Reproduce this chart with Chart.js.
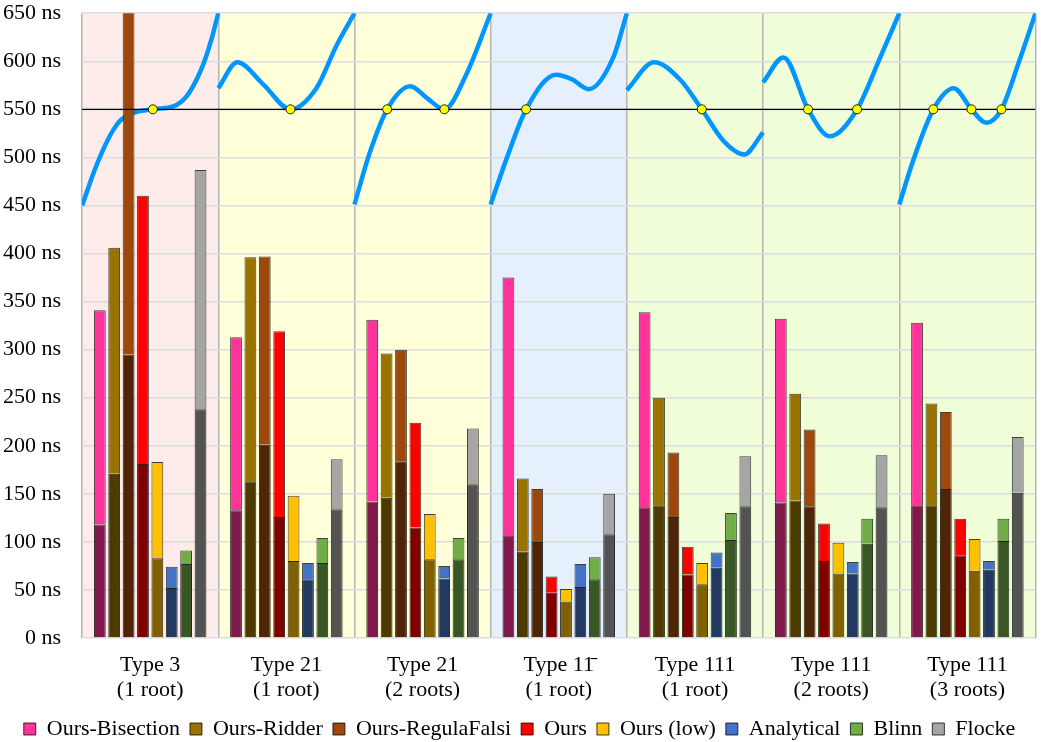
<!DOCTYPE html>
<html>
<head>
<meta charset="utf-8">
<script src="https://cdn.jsdelivr.net/npm/chart.js@4"></script>
<style>
  html, body { margin: 0; padding: 0; background: #fff; }
  #wrap { width: 1041px; height: 742px; }
</style>
</head>
<body>
<div id="wrap"><canvas id="c" width="1041" height="742"></canvas></div>
<script>
// === Categories ===
const categories = [
  ['Type 3', '(1 root)'],
  ['Type 21', '(1 root)'],
  ['Type 21', '(2 roots)'],
  ['Type 11\u0304', '(1 root)'],
  ['Type 111', '(1 root)'],
  ['Type 111', '(2 roots)'],
  ['Type 111', '(3 roots)']
];

const seriesNames = ['Ours-Bisection', 'Ours-Ridder', 'Ours-RegulaFalsi', 'Ours',
  'Ours (low)', 'Analytical', 'Blinn', 'Flocke'];

// total time per method (ns), one value per category
const totalBisection   = [341, 313, 331, 375, 339, 332, 328];
const totalRidder      = [406, 396, 296, 166, 250, 254, 244];
const totalRegulaFalsi = [700, 397, 300, 155, 193, 217, 235];
const totalOurs        = [460, 319, 224, 64, 95, 119, 124];
const totalOursLow     = [183, 148, 129, 51, 78, 99, 103];
const totalAnalytical  = [74, 78, 75, 77, 89, 79, 80];
const totalBlinn       = [91, 104, 104, 84, 130, 124, 124];
const totalFlocke      = [487, 186, 218, 150, 189, 190, 209];

// lower (dark) part of each bar
const lowBisection   = [118, 133, 142, 107, 136, 141, 138];
const lowRidder      = [171, 163, 146, 90, 138, 143, 138];
const lowRegulaFalsi = [295, 201, 184, 100, 126, 137, 155];
const lowOurs        = [181, 126, 115, 47, 66, 80, 86];
const lowOursLow     = [83, 80, 82, 38, 56, 67, 70];
const lowAnalytical  = [52, 61, 62, 53, 73, 67, 71];
const lowBlinn       = [77, 78, 82, 61, 102, 98, 101];
const lowFlocke      = [238, 134, 160, 108, 137, 136, 151];

const totals = [totalBisection, totalRidder, totalRegulaFalsi, totalOurs,
  totalOursLow, totalAnalytical, totalBlinn, totalFlocke];
const lows = [lowBisection, lowRidder, lowRegulaFalsi, lowOurs,
  lowOursLow, lowAnalytical, lowBlinn, lowFlocke];

const lightColors = ['#ff3399', '#997300', '#9e480e', '#ff0000', '#ffc000', '#4472c4', '#70ad47', '#a5a5a5'];
const darkColors  = ['#801a4d', '#4d3a00', '#4f2407', '#800000', '#806000', '#223a62', '#385724', '#535353'];

// illustration curves: [position within category (0..1), ns]
const curve0 = [[0, 450], [0.13, 500], [0.26, 535], [0.37, 546], [0.52, 550], [0.67, 553], [0.77, 564], [0.87, 590], [0.94, 618], [1, 650]];
const curve1 = [[0, 572], [0.14, 599], [0.33, 576], [0.53, 550], [0.72, 572], [0.87, 617], [1, 650]];
const curve2 = [[0, 451], [0.11, 504], [0.24, 550], [0.41, 574], [0.53, 562], [0.66, 550], [0.82, 586], [1, 650]];
const curve3 = [[0, 451], [0.12, 500], [0.26, 550], [0.48, 586], [0.6, 581], [0.72, 571], [0.9, 604], [1, 650]];
const curve4 = [[0, 570], [0.2, 599], [0.39, 581], [0.55, 550], [0.71, 517], [0.86, 503], [1, 526]];
const curve5 = [[0, 578], [0.15, 604], [0.33, 550], [0.49, 522], [0.69, 550], [0.86, 604], [1, 650]];
const curve6 = [[0, 451], [0.1, 496], [0.25, 550], [0.4, 572], [0.53, 550], [0.64, 536], [0.75, 550], [0.88, 600], [1, 650]];
const curves = [curve0, curve1, curve2, curve3, curve4, curve5, curve6];

// roots of each curve on the 550 ns line
const roots = [[0.52], [0.53], [0.24, 0.66], [0.26], [0.55], [0.33, 0.69], [0.25, 0.53, 0.75]];
const rootLevel = 550;

const groupFills = ['#fdece9', '#ffffd9', '#ffffd9', '#e6f0fd', '#effed8', '#effed8', '#effed8'];

// === Background bands per category ===
const bands = {
  id: 'bands',
  beforeDraw(chart) {
    const { ctx, chartArea, scales } = chart;
    const xs = scales.x;
    ctx.save();
    groupFills.forEach((c, i) => {
      const x0 = xs.getPixelForValue(i);
      const x1 = xs.getPixelForValue(i + 1);
      ctx.fillStyle = c;
      ctx.fillRect(x0, chartArea.top, x1 - x0, chartArea.bottom - chartArea.top);
    });
    ctx.restore();
  }
};

// === Datasets ===
// everything shares one linear x axis (category i spans i..i+1)
const datasets = [];
seriesNames.forEach((name, k) => {
  datasets.push({
    type: 'bar',
    label: name + ' (base)',
    data: lows[k].map((v, i) => ({ x: i + 0.5, y: v })),
    stack: 's' + k,
    backgroundColor: darkColors[k],
    borderColor: 'rgba(0,0,0,0.85)',
    borderWidth: 1,
    order: 5
  });
  datasets.push({
    type: 'bar',
    label: name,
    data: totals[k].map((t, i) => ({ x: i + 0.5, y: t - lows[k][i] })),
    stack: 's' + k,
    backgroundColor: lightColors[k],
    borderColor: 'rgba(0,0,0,0.75)',
    borderWidth: 1,
    order: 5,
    inLegend: true
  });
});

curves.forEach((pts, g) => {
  datasets.push({
    type: 'line',
    label: 'curve' + g,
    data: pts.map(p => ({ x: g + p[0], y: p[1] })),
    yAxisID: 'yl',
    borderColor: '#0096ff',
    borderWidth: 4.5,
    pointRadius: 0,
    cubicInterpolationMode: g === 0 ? 'default' : 'monotone',
    tension: 0.4,
    order: 10
  });
});

datasets.push({
  type: 'line',
  label: 'level',
  data: [{ x: 0, y: rootLevel }, { x: 7, y: rootLevel }],
  yAxisID: 'yl',
  borderColor: '#000',
  borderWidth: 1.2,
  pointRadius: 0,
  order: 2
});

const rootPts = [];
roots.forEach((rs, g) => rs.forEach(r => rootPts.push({ x: g + r, y: rootLevel })));
datasets.push({
  type: 'line',
  label: 'roots',
  data: rootPts,
  yAxisID: 'yl',
  showLine: false,
  pointRadius: 4.5,
  pointBackgroundColor: '#ffff00',
  pointBorderColor: '#222',
  pointBorderWidth: 1,
  order: 1
});

const font = { family: "'Liberation Serif', 'DejaVu Serif', serif", size: 22 };

new Chart(document.getElementById('c'), {
  data: { datasets },
  options: {
    responsive: false,
    animation: false,
    layout: { padding: { left: 3, right: 5, top: 0, bottom: -8 } },
    datasets: { bar: { categoryPercentage: 0.845, barPercentage: 0.82 } },
    scales: {
      x: {
        type: 'linear',
        stacked: true,
        offset: false,
        min: 0,
        max: 7,
        grid: { color: '#b4b4b4', lineWidth: 1.5, drawTicks: false, offset: false },
        border: { display: false },
        ticks: { display: false, stepSize: 1 }
      },
      xlab: {
        type: 'category',
        position: 'bottom',
        labels: categories,
        offset: true,
        grid: { display: false, drawTicks: false },
        border: { display: false },
        ticks: { color: '#000', font: { ...font, lineHeight: 1.14 }, padding: 15, maxRotation: 0, autoSkip: false },
        afterFit(scale) { scale.height = 70; }
      },
      y: {
        stacked: true,
        min: 0,
        max: 650,
        grid: { color: '#dcdcdc', lineWidth: 1.5, drawTicks: true, tickLength: 21, tickColor: 'rgba(0,0,0,0)' },
        border: { display: false },
        ticks: { color: '#000', font, stepSize: 50, padding: 0, callback: v => v + ' ns' }
      },
      yl: { type: 'linear', min: 0, max: 650, display: false }
    },
    plugins: {
      tooltip: { enabled: false },
      legend: {
        position: 'bottom',
        labels: {
          font,
          color: '#000',
          boxWidth: 12,
          boxHeight: 12,
          padding: 10,
          filter: (item, data) => data.datasets[item.datasetIndex].inLegend === true
        }
      }
    }
  },
  plugins: [bands]
});
</script>
</body>
</html>
